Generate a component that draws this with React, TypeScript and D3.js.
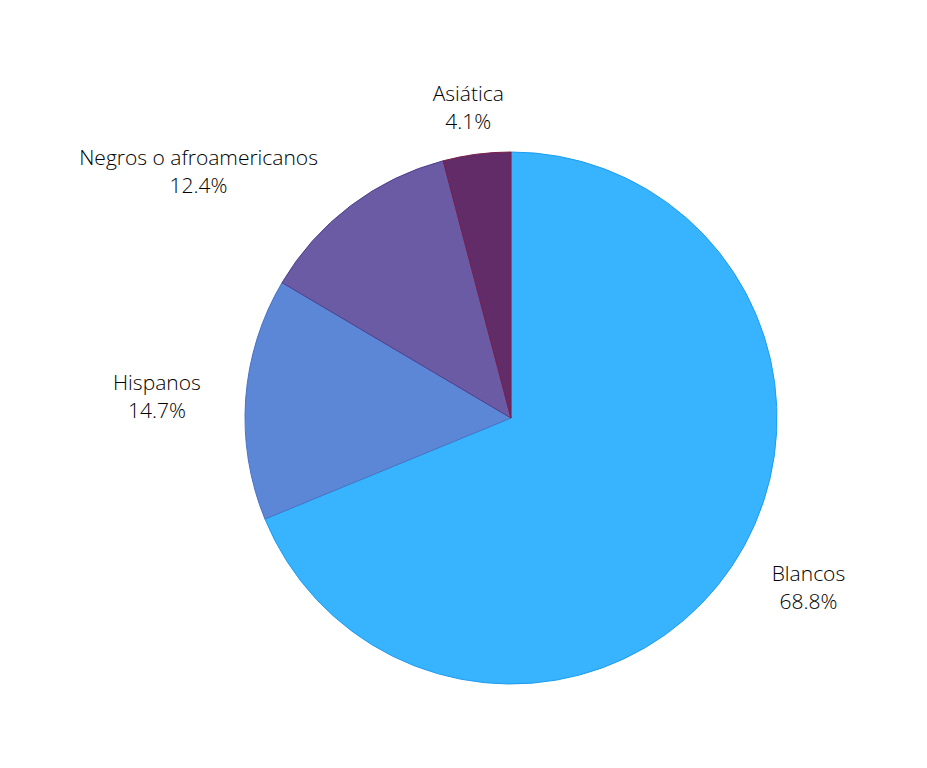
import React, { useEffect, useRef } from "react";
import * as d3 from "d3";

const categories = ["Blancos", "Hispanos", "Negros o afroamericanos", "Asiática"];
const values = [68.8, 14.7, 12.4, 4.1];
const colors = ["#38b4fe", "#5b87d6", "#6a5ba4", "#612c68"];
const strokes = ["#1e9cf0", "#4a73c4", "#4e3f8c", "#7a1e4a"];

const W = 927;
const H = 768;
const CX = 511;
const CY = 418;
const R = 266;
const GAP_X = 31;
const GAP_Y = 27;
const FONT = 21;
const LINE = 28;

export default function App() {
  const ref = useRef<SVGSVGElement>(null);

  useEffect(() => {
    const svg = d3.select(ref.current);
    svg.selectAll("*").remove();
    const g = svg.append("g").attr("transform", `translate(${CX},${CY})`);

    const data = categories.map((c, i) => ({ c, v: values[i], i }));
    const pie = d3.pie<any>().value((d) => d.v).sort(null);
    const arcs = pie(data);
    const arc = d3.arc<any>().innerRadius(0).outerRadius(R);

    g.selectAll("path.slice")
      .data(arcs)
      .join("path")
      .attr("class", "slice")
      .attr("d", arc as any)
      .attr("fill", (d: any) => colors[d.data.i])
      .attr("stroke", (d: any) => strokes[d.data.i])
      .attr("stroke-width", 1);

    arcs.forEach((a: any) => {
      const mid = (a.startAngle + a.endAngle) / 2;
      const s = Math.sin(mid);
      const c = -Math.cos(mid);
      const lg = g
        .append("text")
        .attr("font-family", "'Open Sans', sans-serif")
        .attr("font-size", FONT)
        .attr("font-weight", 300)
        .attr("fill", "#000")
        .attr("text-anchor", "middle");
      lg.append("tspan").attr("x", 0).attr("dy", 0).text(a.data.c);
      lg.append("tspan").attr("x", 0).attr("dy", LINE).text(`${a.data.v.toFixed(1)}%`);
      const bb = (lg.node() as SVGTextElement).getBBox();
      const w = bb.width;
      const h = LINE * 2;
      const px = (R + GAP_X) * s;
      const py = (R + GAP_Y) * c;
      const dx = (w / 2) * (px < 0 ? -1 : 1);
      const dy = (h / 2) * (py < 0 ? -1 : 1);
      const ox =
        Math.abs(s) < 0.3
          ? s * (w / 2)
          : dx + (Math.abs(dy) * (dx > 0 ? 1 : -1)) / 2;
      const oy = (0.73 * dy) / (1 + (px * px) / (py * py));
      const cxl = px + ox;
      const cyl = py + oy;
      const firstBaseline = cyl - LINE / 2 + FONT * 0.36;
      lg.attr("transform", `translate(${cxl},${firstBaseline})`);
    });
  }, []);

  return (
    <svg
      ref={ref}
      width={W}
      height={H}
      style={{ position: "absolute", left: 0, top: 0, background: "#fff" }}
    />
  );
}
